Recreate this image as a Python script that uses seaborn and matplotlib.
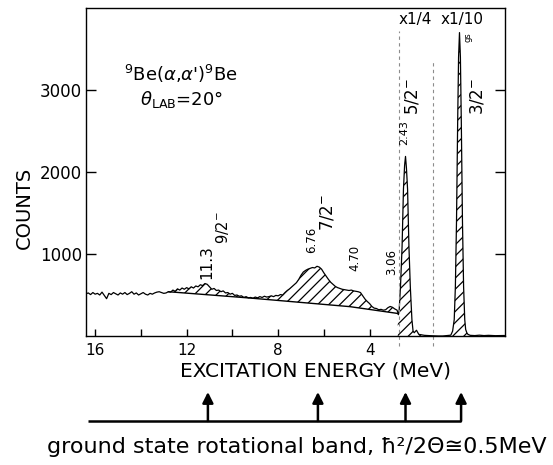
import numpy as np
import pandas as pd
import matplotlib
matplotlib.use("Agg")
import matplotlib.pyplot as plt
import seaborn as sns

sns.set_theme(style="ticks")
plt.rcParams['font.family'] = ['DejaVu Sans']
plt.rcParams['hatch.linewidth'] = 0.9
plt.rcParams['mathtext.fontset'] = 'dejavusans'
for k in ['text.color', 'axes.labelcolor', 'xtick.color', 'ytick.color', 'axes.edgecolor']:
    plt.rcParams[k] = 'black'

# ---------------- data ----------------
# continuum channels: 16.4 MeV downward in 0.1 MeV steps
cont_start = 16.4
cont_step = 0.1
cont_counts = [
    515, 525, 505, 530, 510, 520, 500, 535, 495, 455,
    520, 505, 530, 515, 500, 525, 510, 530, 505, 520,
    540, 510, 525, 500, 515, 530, 510, 500, 520, 510,
    525, 535, 540, 530, 520, 525, 540,
    535, 560, 545, 575, 560, 585, 570, 590, 575, 600,
    585, 610, 600, 625, 615, 640, 630, 600, 570, 580,
    555, 560, 540, 550, 525, 530, 510, 520, 495, 500,
    485, 490, 470, 480, 465,
    470, 460, 475, 465, 480, 470, 485, 475, 480, 490,
    480, 495, 490, 505, 500, 530, 555,
    575, 600, 625, 650, 690, 740, 780, 800, 815, 825,
    835, 830, 850, 840, 815, 770, 730, 690, 655, 630,
    605, 590, 580, 570, 565, 560,
    555, 560, 550, 545, 540, 530, 490, 450, 420, 395,
    360, 340, 335, 320, 325, 315, 320, 345, 360, 350,
    330, 315,
]
# scaled region (x1/4 then x1/10), counts as displayed
peak_energy = [2.77, 2.74, 2.71, 2.65, 2.58, 2.52, 2.47, 2.43, 2.39, 2.34,
               2.28, 2.22, 2.15, 2.10, 2.05, 1.95, 1.85, 1.60, 1.30, 1.00,
               0.80, 0.60, 0.45, 0.37, 0.30, 0.25, 0.20, 0.15, 0.11, 0.07,
               0.03, -0.01, -0.06, -0.11, -0.16, -0.20, -0.25, -0.30, -0.40, -0.60,
               -0.80, -1.00, -1.20, -1.50, -1.90]
peak_counts = [290, 260, 300, 600, 1090, 1790, 2080, 2190, 2050, 1790,
               1090, 600, 200, 60, 40, 70, 20, 8, 3, 0,
               0, 5, 10, 60, 200, 600, 1400, 2600, 3400, 3700,
               3400, 2600, 1400, 600, 200, 80, 40, 20, 8, 5,
               10, 5, 8, 4, 6]
bg_energy = [12.8, 9.23, 7.48, 4.86, 2.77]
bg_counts = [540, 463, 421, 358, 275]

y_ticks = [1000, 2000, 3000]
x_major = [16, 12, 8, 4]
x_minor = [14, 10, 6]
band_energy = [11.07, 6.26, 2.43, 0.0]
scale_breaks = [2.71, 1.22]
scale_labels = ["x1/4", "x1/10"]

cont_energy = cont_start - cont_step * np.arange(len(cont_counts))
df = pd.DataFrame({
    "energy": np.concatenate([cont_energy, peak_energy]),
    "counts": np.concatenate([cont_counts, peak_counts]),
})

# ---------------- figure ----------------
W, H = 553, 465
fig = plt.figure(figsize=(W / 100, H / 100), dpi=100)
ax = fig.add_axes([86 / W, 1 - 336 / H, 419 / W, 328 / H])

# hatched areas
ce = np.array(cont_energy)
cc = np.array(cont_counts, dtype=float)
bgi = np.interp(ce[::-1], bg_energy[::-1], bg_counts[::-1])[::-1]
mask = ce <= bg_energy[0]
ax.fill_between(ce[mask], bgi[mask], cc[mask], where=cc[mask] > bgi[mask],
                interpolate=True, facecolor='white', edgecolor='black',
                hatch='///', linewidth=0)
ax.fill_between(peak_energy, 0, peak_counts, facecolor='white',
                edgecolor='black', hatch='///', linewidth=0)

sns.lineplot(data=df, x="energy", y="counts", estimator=None, sort=False,
             color='black', lw=0.9, ax=ax)
ax.plot(bg_energy, bg_counts, color='black', lw=1.0)

# scale-change markers
xt = ax.get_xaxis_transform()
for e, top in zip(scale_breaks, [0.93, 0.84]):
    ax.plot([e, e], [-0.03, top], transform=xt, color='0.55', lw=0.8,
            ls=(0, (3, 3)), clip_on=False)
ax.text(2.01, 3855, scale_labels[0], ha='center', va='center', fontsize=11)
ax.text(-0.04, 3855, scale_labels[1], ha='center', va='center', fontsize=11)

# state labels
lab = dict(rotation=90, ha='center', va='center')
ax.text(-0.31, 3650, "gs", fontsize=6, **lab)
ax.text(-0.70, 2915, r"3/2$^{-}$", fontsize=12, **lab)
ax.text(2.14, 2915, r"5/2$^{-}$", fontsize=12, **lab)
ax.text(2.48, 2477, "2.43", fontsize=8, **lab)
ax.text(3.02, 903, "3.06", fontsize=8.5, **lab)
ax.text(4.64, 952, "4.70", fontsize=8.5, **lab)
ax.text(6.52, 1171, "6.76", fontsize=8.5, **lab)
ax.text(5.86, 1500, r"7/2$^{-}$", fontsize=12, **lab)
ax.text(11.10, 903, "11.3", fontsize=11, **lab)
ax.text(10.45, 1318, r"9/2$^{-}$", fontsize=10.5, **lab)

ax.text(0.227, 0.80, r"$^{9}$Be($\alpha$,$\alpha$')$^{9}$Be",
        transform=ax.transAxes, ha='center', va='center', fontsize=13)
ax.text(0.229, 0.72, r"$\theta_{\rm LAB}$=20°",
        transform=ax.transAxes, ha='center', va='center', fontsize=13)

# axes
ax.set_xlim(16.4, -1.92)
ax.set_ylim(0, 4000)
ax.set_yticks(y_ticks)
ax.set_yticklabels([str(v) for v in y_ticks])
ax.set_xticks(x_major)
ax.set_xticklabels([str(v) for v in x_major])
ax.set_xticks(x_minor, minor=True)
ax.tick_params(axis='y', direction='in', length=7, width=1, right=True,
               labelsize=12, pad=3)
ax.tick_params(axis='x', which='both', direction='in', length=5, width=1,
               labelsize=11, pad=5)
for s in ax.spines.values():
    s.set_linewidth(1.0)

ax.set_xlabel("EXCITATION ENERGY (MeV)", fontsize=14.5, va='center')
ax.xaxis.set_label_coords((316 - 86) / 419, (336 - 371) / 328)
ax.set_ylabel("COUNTS", fontsize=14, va='center')
ax.yaxis.set_label_coords((24 - 86) / 419, (336 - 208) / 328)

# rotational band diagram
y_line = (336 - 421) / 328
y_tip = (336 - 392) / 328
ax.plot([16.3, band_energy[-1]], [y_line, y_line], transform=xt,
        color='black', lw=1.8, clip_on=False, solid_capstyle='butt')
for e in band_energy:
    ax.annotate("", xy=(e, y_tip), xytext=(e, y_line), xycoords=xt,
                textcoords=xt,
                arrowprops=dict(arrowstyle='-|>', color='black', lw=1.8,
                                mutation_scale=16, shrinkA=0, shrinkB=0))
fig.text(297 / W, 1 - 447 / H,
         "ground state rotational band, ħ²/2Θ≅0.5MeV",
         ha='center', va='center', fontsize=16)

fig.savefig("out.png", dpi=100, facecolor='white')
